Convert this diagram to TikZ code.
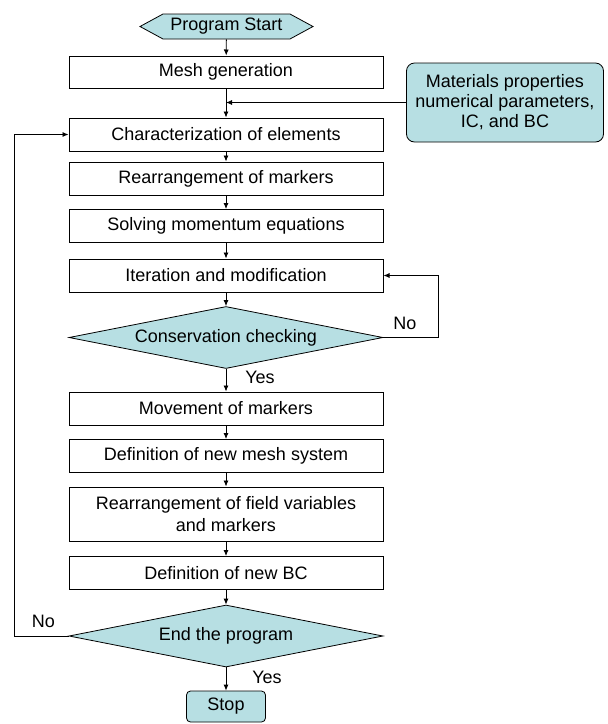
\documentclass[tikz,border=0pt]{standalone}
\usepackage{fontspec}
\setmainfont{Liberation Sans}
\usetikzlibrary{shapes.geometric,shapes.symbols,arrows.meta}
\definecolor{cyanfill}{RGB}{183,223,227}
\begin{document}
\begin{tikzpicture}[x=1pt,y=-1pt,
  font=\fontsize{18}{21}\selectfont,
  box/.style={draw, line width=1pt, minimum width=314pt, minimum height=33pt, inner sep=0pt, align=center},
  dec/.style={diamond, aspect=5, draw, fill=cyanfill, line width=0.8pt, minimum width=314pt, minimum height=62pt, inner sep=0pt},
  arr/.style={-{Latex[length=6pt,width=5pt]}, line width=0.8pt},
  lab/.style={inner sep=0pt}
]
\useasboundingbox (0,0) rectangle (608,724);
\node[signal, signal to=west and east, signal pointer angle=57, draw, fill=cyanfill, line width=0.8pt, minimum width=173pt, minimum height=25pt, inner sep=0pt] (start) at (226.5,26.5) {Program Start};
\node[box, minimum height=32pt] (mesh) at (226,72) {Mesh generation};
\node[draw, fill=cyanfill, line width=0.8pt, rounded corners=8pt, minimum width=197pt, minimum height=79pt, align=center, inner sep=0pt, font=\fontsize{18}{20}\selectfont] (mat) at (505,102.5) {Materials properties\\numerical parameters,\\IC, and BC};
\node[box] (char) at (226,134.5) {Characterization of elements};
\node[box] (rearr) at (226,178.5) {Rearrangement of markers};
\node[box] (solve) at (226,226) {Solving momentum equations};
\node[box] (iter) at (226,275.5) {Iteration and modification};
\node[dec] (cons) at (226,337.5) {Conservation checking};
\node[box] (move) at (226,408.5) {Movement of markers};
\node[box] (defmesh) at (226,456) {Definition of new mesh system};
\node[box, minimum height=54pt, font=\fontsize{18}{22}\selectfont] (field) at (226,514) {Rearrangement of field variables\\and markers};
\node[box] (bc) at (226,573) {Definition of new BC};
\node[dec] (end) at (226,636) {End the program};
\node[draw, fill=cyanfill, line width=0.8pt, rounded corners=4pt, minimum width=79pt, minimum height=31pt, inner sep=0pt] (stop) at (226,706.5) {Stop};
\coordinate (fb) at (14.5,0);
\coordinate (lp) at (438,0);
\draw[arr] (start) -- (mesh);
\draw[arr] (mesh) -- (char);
\draw[arr] (mat.west) -- (mesh.south |- mat.west);
\draw[arr] (char) -- (rearr);
\draw[arr] (rearr) -- (solve);
\draw[arr] (solve) -- (iter);
\draw[arr] (iter) -- (cons);
\draw[arr] (cons.east) -- (cons.east -| lp) |- (iter.east);
\draw[arr] (cons) -- (move);
\draw[arr] (move) -- (defmesh);
\draw[arr] (defmesh) -- (field);
\draw[arr] (field) -- (bc);
\draw[arr] (bc) -- (end);
\draw[arr] (end.west) -- (end.west -| fb) |- (char.west);
\draw[arr] (end) -- (stop);
\node[lab] (no1) at (405,323) {No};
\node[lab] (yes1) at (260,377) {Yes};
\node[lab] (no2) at (43.5,621) {No};
\node[lab] (yes2) at (267,677) {Yes};
\end{tikzpicture}
\end{document}
